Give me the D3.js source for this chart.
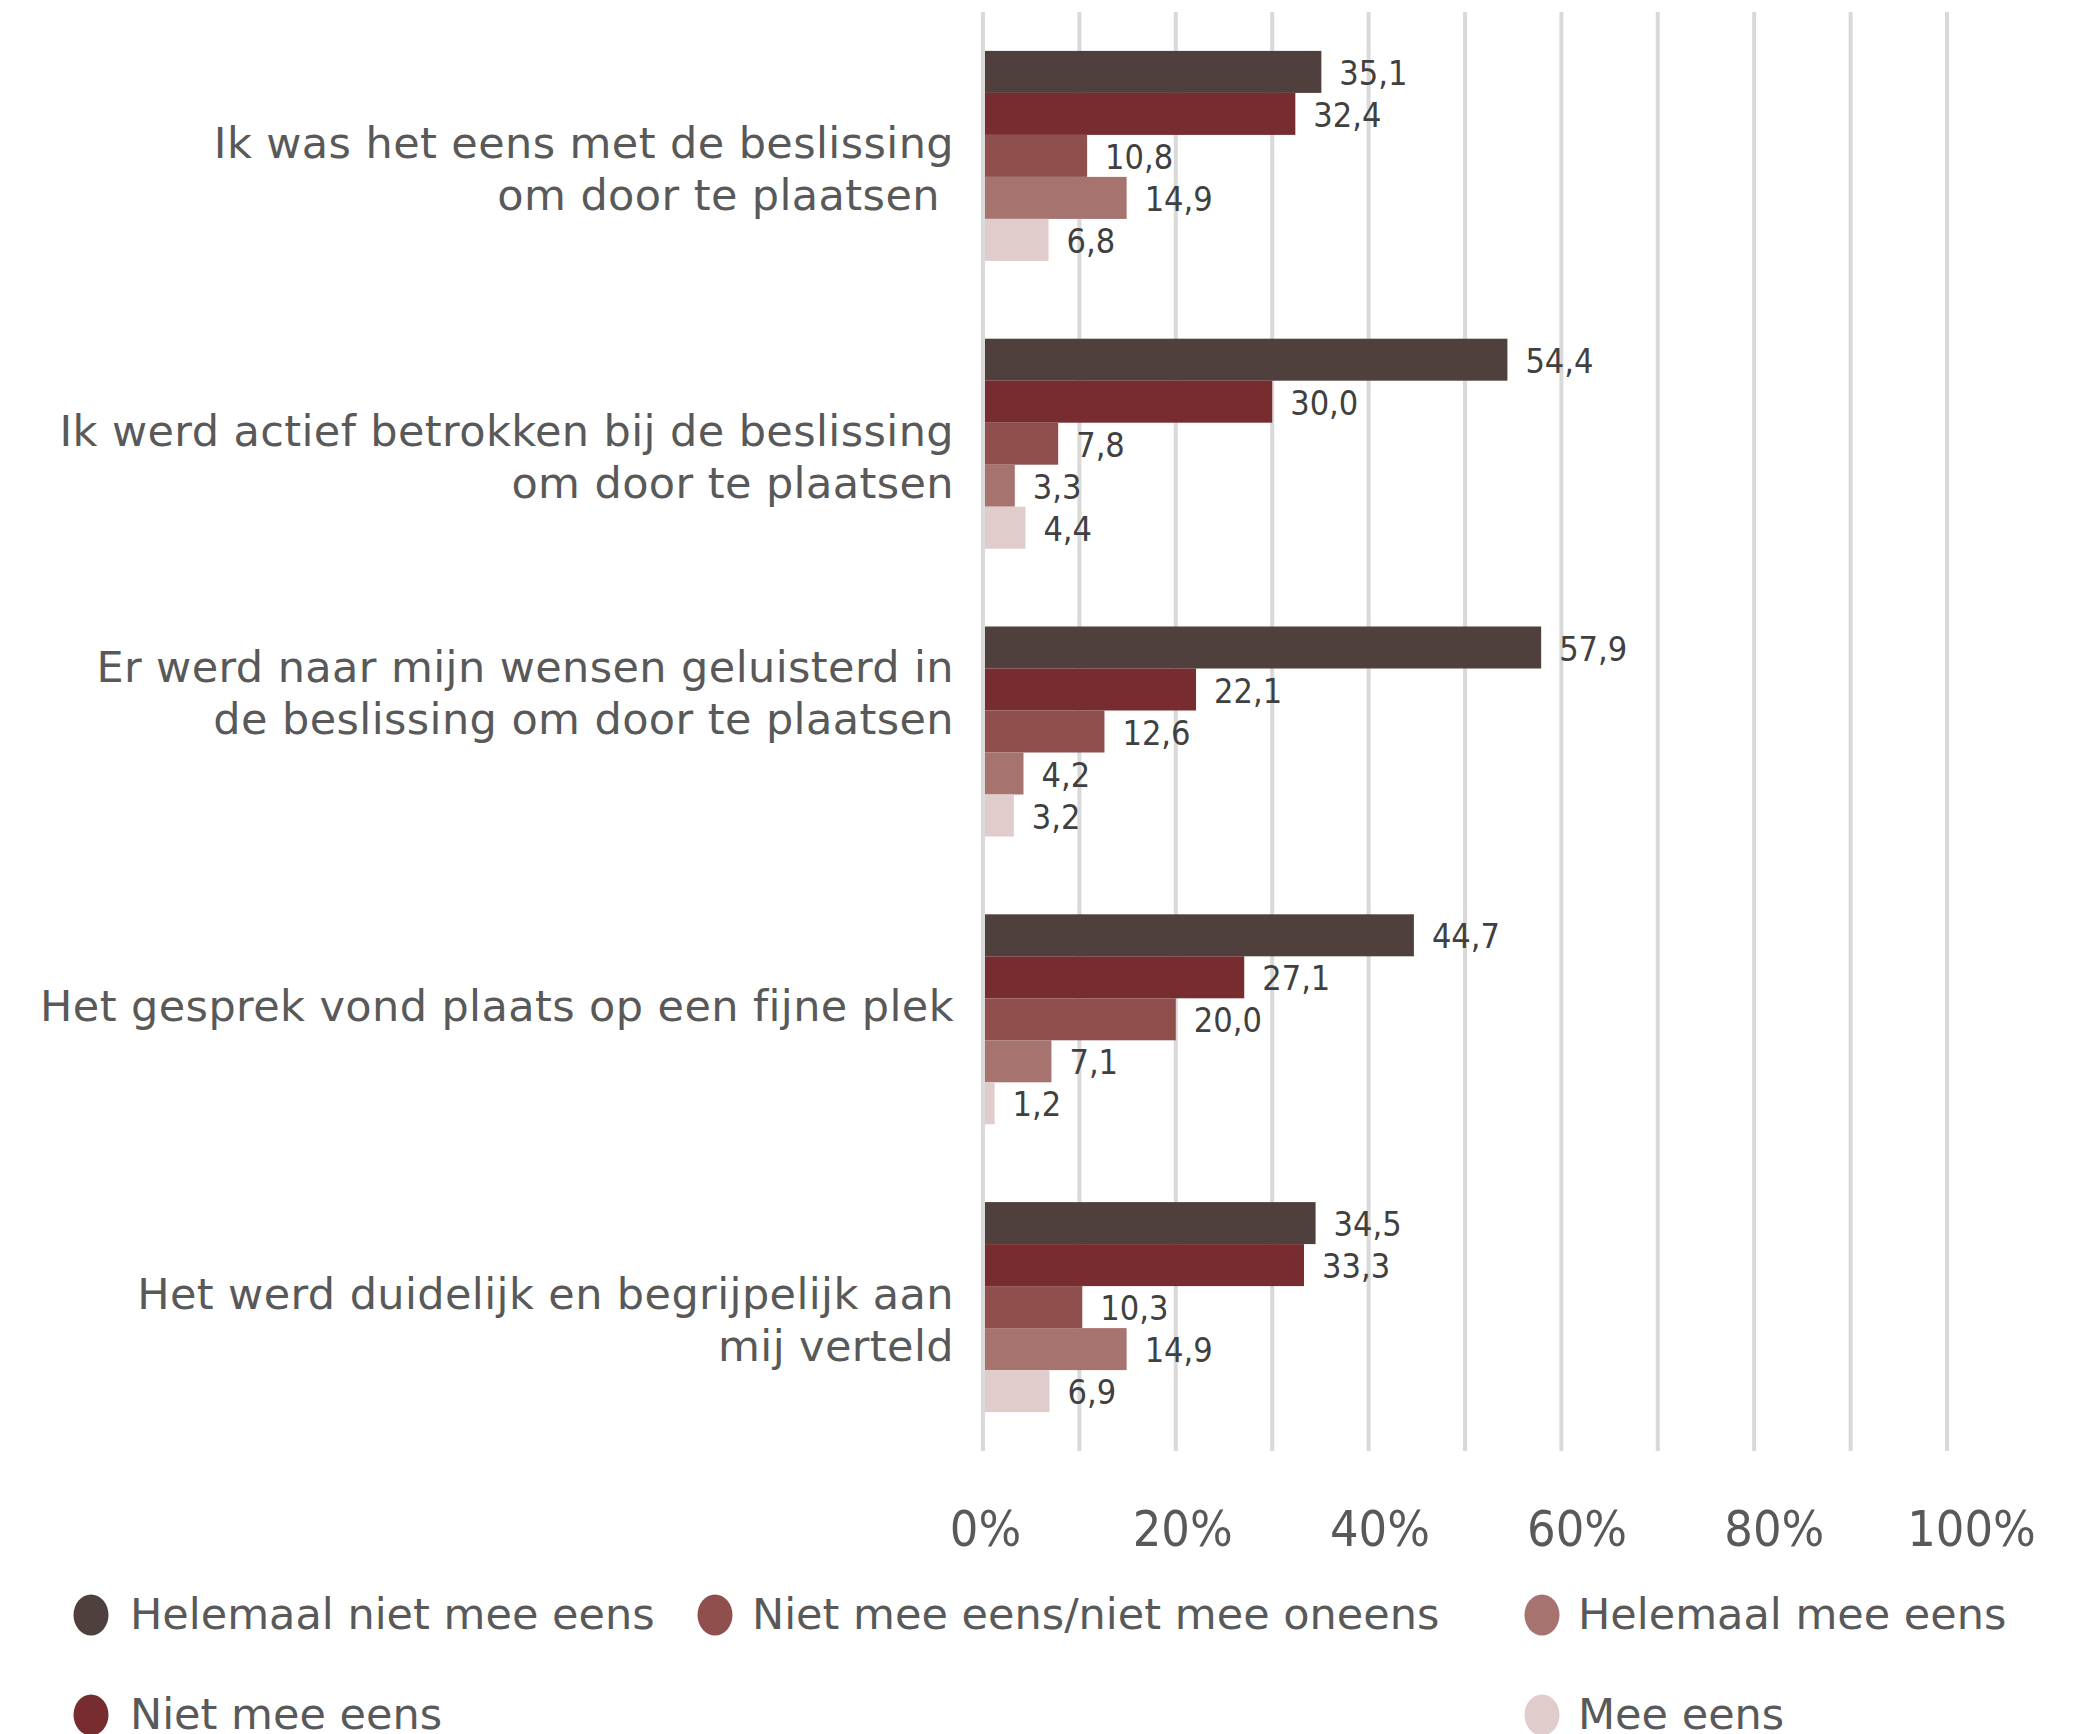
<!DOCTYPE html>
<html>
<head>
<meta charset="utf-8">
<script src="https://cdn.jsdelivr.net/npm/d3@7"></script>
<style>
  body { margin: 0; background: #ffffff; }
  svg { display: block; }
  .cat-label { font-family: "DejaVu Sans", Verdana, sans-serif; font-size: 43px; letter-spacing: 0.4px; fill: #595959; white-space: pre; }
  .val-label { font-family: "DejaVu Sans Condensed", "DejaVu Sans", sans-serif; font-stretch: condensed; font-size: 34px; fill: #404040; }
  .tick-label { font-family: "DejaVu Sans Condensed", "DejaVu Sans", sans-serif; font-stretch: condensed; font-size: 50px; fill: #595959; }
  .leg-label { font-family: "DejaVu Sans", Verdana, sans-serif; font-size: 43px; fill: #595959; }
</style>
</head>
<body>
<svg id="chart" width="2080" height="1734"></svg>
<script>
// categories (lines as in the picture, empty line = extra wrap line)
var categories = [
  ["Ik was het eens met de beslissing", "om door te plaatsen "],
  ["Ik werd actief betrokken bij de beslissing", "om door te plaatsen"],
  ["Er werd naar mijn wensen geluisterd in", "de beslissing om door te plaatsen", "", ""],
  ["Het gesprek vond plaats op een fijne plek", ""],
  ["Het werd duidelijk en begrijpelijk aan", "mij verteld"]
];

var series = ["Helemaal niet mee eens", "Niet mee eens", "Niet mee eens/niet mee oneens", "Helemaal mee eens", "Mee eens"];
var colors = ["#50403d", "#772d2f", "#8e4f4d", "#a6736f", "#e0cccb"];

// values per series (one value per category)
var helemaalNiet = [35.1, 54.4, 57.9, 44.7, 34.5];
var nietMee      = [32.4, 30.0, 22.1, 27.1, 33.3];
var neutraal     = [10.8, 7.8, 12.6, 20.0, 10.3];
var helemaalMee  = [14.9, 3.3, 4.2, 7.1, 14.9];
var meeEens      = [6.8, 4.4, 3.2, 1.2, 6.9];
var values = [helemaalNiet, nietMee, neutraal, helemaalMee, meeEens];

var gridTicks = [0, 10, 20, 30, 40, 50, 60, 70, 80, 90, 100];
var labelTicks = [0, 20, 40, 60, 80, 100];

// legend columns (indices into series)
var legendCols = [[0, 1], [2], [3, 4]];

var svg = d3.select("#chart");

var plotTop = 12, plotBottom = 1451;
var x = d3.scaleLinear().domain([0, 100]).range([983, 1947]);
var xLab = d3.scaleLinear().domain([0, 100]).range([985, 1971]);
var y0 = d3.scaleBand().domain(d3.range(categories.length)).range([plotTop, plotBottom]);
var groupH = 210;
var y1 = d3.scaleBand().domain(d3.range(series.length)).range([0, groupH]);

// gridlines
svg.append("g").selectAll("line").data(gridTicks).join("line")
  .attr("x1", function(d) { return x(d); })
  .attr("x2", function(d) { return x(d); })
  .attr("y1", plotTop).attr("y2", plotBottom)
  .style("stroke", "#d9d9d9").style("stroke-width", 4);

// bars
var groups = svg.append("g").selectAll("g").data(categories).join("g")
  .attr("transform", function(d, i) { return "translate(0," + (y0(i) + (y0.bandwidth() - groupH) / 2) + ")"; });

groups.each(function(c, ci) {
  var g = d3.select(this);
  var rows = values.map(function(v, si) { return { s: si, v: v[ci] }; });
  g.selectAll("rect").data(rows).join("rect")
    .attr("x", x(0) + 2)
    .attr("y", function(d) { return y1(d.s); })
    .attr("width", function(d) { return x(d.v) - x(0) - 2; })
    .attr("height", y1.bandwidth())
    .style("fill", function(d) { return colors[d.s]; });
  g.selectAll("text").data(rows).join("text")
    .attr("class", "val-label")
    .attr("x", function(d) { return x(d.v) + 18; })
    .attr("y", function(d) { return y1(d.s) + y1.bandwidth() / 2 + 13; })
    .text(function(d) { return d3.format(".1f")(d.v).replace(".", ","); });
});

// category labels
var lineH = 52;
svg.append("g").selectAll("text").data(categories).join("text")
  .attr("class", "cat-label")
  .attr("text-anchor", "end")
  .each(function(lines, i) {
    var t = d3.select(this);
    var cy = y0(i) + y0.bandwidth() / 2 + 13;
    var first = cy - (lines.length - 1) * lineH / 2;
    lines.forEach(function(l, k) {
      if (l.trim() === "") return;
      t.append("tspan").attr("x", 954).attr("y", first + k * lineH + 15).text(l);
    });
  });

// x axis labels
var axis = d3.axisBottom(xLab).tickValues(labelTicks).tickSize(0).tickPadding(0)
  .tickFormat(function(d) { return d + "%"; });
var ax = svg.append("g").attr("transform", "translate(0,1509)").call(axis);
ax.select(".domain").remove();
ax.selectAll("text").attr("class", "tick-label").attr("dy", null).attr("y", 37)
  .attr("font-family", null).attr("font-size", null).attr("fill", null);

// legend
var legX = [91, 715, 1542], legTextX = [130, 752, 1578];
var legY = [1615, 1715];
legendCols.forEach(function(col, ci) {
  col.forEach(function(si, ri) {
    svg.append("ellipse")
      .attr("cx", legX[ci]).attr("cy", legY[ri])
      .attr("rx", 17.5).attr("ry", 20.5)
      .style("fill", colors[si]);
    svg.append("text")
      .attr("class", "leg-label")
      .attr("x", legTextX[ci]).attr("y", legY[ri] + 14)
      .text(series[si]);
  });
});
</script>
</body>
</html>
